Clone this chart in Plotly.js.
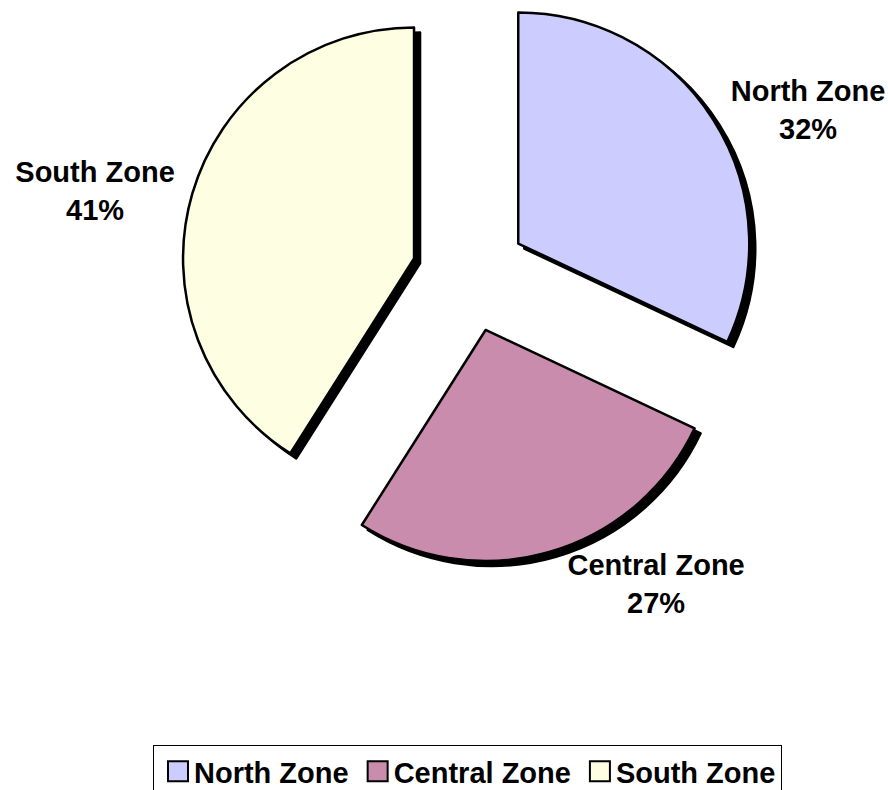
<!DOCTYPE html>
<html>
<head>
<meta charset="utf-8">
<script src="https://cdn.plot.ly/plotly-3.0.1.min.js"></script>
<style>
  html, body { margin: 0; padding: 0; overflow: hidden; background: #ffffff; width: 888px; height: 790px; }
  #chart { position: absolute; left: 0; top: -30px; width: 888px; height: 840px; }
</style>
</head>
<body>
<div id="chart"></div>
<script>
// ---- data ----
var zones = ["North Zone", "Central Zone", "South Zone"];
var shares = [32, 27, 41];
var zoneColors = ["#CCCCFF", "#C98CAD", "#FEFEE2"];

// ---- layout helpers (pixel geometry of the pie box) ----
var W = 888, H = 840;
var pullFrac = 0.25;
var boxCx = 469.5, boxCy = 304.5, boxSize = 577.5;
var shadowDx = 6, shadowDy = 5;

function domX(cx) { return [(cx - boxSize / 2) / W, (cx + boxSize / 2) / W]; }
function domY(cy) { return [1 - (cy + boxSize / 2) / H, 1 - (cy - boxSize / 2) / H]; }

var baseFont = { family: "Liberation Sans, Arial, sans-serif", size: 29, color: "#000000", weight: "bold" };

var shadow = {
  type: "pie",
  labels: zones.map(function (z) { return z + " shadow"; }),
  values: shares,
  sort: false,
  direction: "clockwise",
  rotation: 0,
  pull: shares.map(function () { return pullFrac; }),
  marker: { colors: zones.map(function () { return "#000000"; }), line: { color: "#000000", width: 2.5 } },
  textinfo: "none",
  hoverinfo: "skip",
  showlegend: false,
  domain: { x: domX(boxCx + shadowDx), y: domY(boxCy + shadowDy) }
};

var pie = {
  type: "pie",
  labels: zones,
  values: shares,
  sort: false,
  direction: "clockwise",
  rotation: 0,
  pull: shares.map(function () { return pullFrac; }),
  marker: { colors: zoneColors, line: { color: "#000000", width: 2.5 } },
  textposition: "outside",
  texttemplate: "%{label}<br>%{percent:.0%}",
  outsidetextfont: baseFont,
  hoverinfo: "label+percent",
  domain: { x: domX(boxCx), y: domY(boxCy) }
};

var layout = {
  width: W,
  height: H,
  margin: { l: 0, r: 0, t: 0, b: 0 },
  paper_bgcolor: "#ffffff",
  plot_bgcolor: "#ffffff",
  font: baseFont,
  showlegend: true,
  legend: {
    orientation: "h",
    x: 467.5 / W, xanchor: "center",
    y: 1 - 775 / H, yanchor: "top",
    bordercolor: "#000000",
    borderwidth: 1,
    bgcolor: "#ffffff",
    font: baseFont,
    traceorder: "normal"
  }
};

function enlargeSwatches() {
  var sw = document.querySelectorAll("#chart .legendpie");
  sw.forEach(function (p) {
    p.setAttribute("transform", "translate(24,0) scale(1.667)");
    p.style.strokeWidth = "1.2px";
    p.style.stroke = "#000000";
  });
}

Plotly.newPlot("chart", [shadow, pie], layout, { displayModeBar: false, staticPlot: true }).then(enlargeSwatches);
</script>
</body>
</html>
